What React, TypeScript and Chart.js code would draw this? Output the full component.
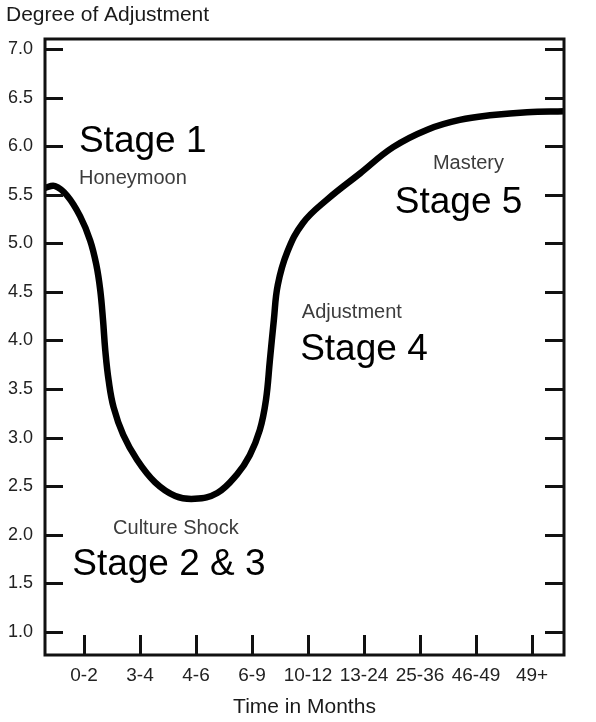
import { useEffect, useRef } from 'react';
import { Chart, registerables } from 'chart.js';

Chart.register(...registerables);

// Category labels along the time axis
const categories = ['0-2', '3-4', '4-6', '6-9', '10-12', '13-24', '25-36', '46-49', '49+'];
const xTickIndices = [0, 1, 2, 3, 4, 5, 6, 7, 8];
const yTickValues = [1.0, 1.5, 2.0, 2.5, 3.0, 3.5, 4.0, 4.5, 5.0, 5.5, 6.0, 6.5, 7.0];

// Adjustment curve (x in category index units)
const curveX = [-0.7, -0.52, -0.3, -0.07, 0.11, 0.22, 0.29, 0.34, 0.38, 0.44, 0.53, 0.7, 0.95, 1.27, 1.63, 1.98, 2.38, 2.73, 2.96, 3.14, 3.25, 3.32, 3.39, 3.46, 3.63, 3.91, 4.34, 4.93, 5.52, 6.13, 6.71, 7.3, 7.91, 8.57];
const curveY = [5.57, 5.59, 5.49, 5.28, 5.03, 4.78, 4.52, 4.21, 3.9, 3.59, 3.31, 3.03, 2.77, 2.54, 2.4, 2.37, 2.43, 2.62, 2.82, 3.08, 3.39, 3.8, 4.21, 4.57, 4.91, 5.21, 5.45, 5.72, 5.99, 6.17, 6.27, 6.32, 6.35, 6.36];

// Phase names and their anchor (data units)
const phaseLabels = ['Honeymoon', 'Culture Shock', 'Adjustment', 'Mastery'];
const phaseX = [-0.09, 0.52, 3.89, 6.23];
const phaseY = [5.67, 2.07, 4.29, 5.82];

// Handwritten stage notes and their anchor (data units, baseline)
const stageLabels = ['Stage 1', 'Stage 2 & 3', 'Stage 4', 'Stage 5'];
const stageX = [-0.09, -0.21, 3.86, 5.55];
const stageY = [5.94, 1.59, 3.8, 5.31];

const X_MIN = -0.696;
const X_MAX = 8.571;
const Y_MIN = 0.763;
const Y_MAX = 7.103;

const framePlugin = {
  id: 'frameAndNotes',
  afterDatasetsDraw(chart: any) {
    const { ctx, chartArea: a, scales } = chart;
    const x = scales.x;
    const y = scales.y;
    ctx.save();
    // frame
    ctx.strokeStyle = '#111';
    ctx.lineWidth = 3;
    ctx.strokeRect(a.left, a.top, a.right - a.left, a.bottom - a.top);
    // inner tick marks
    ctx.beginPath();
    for (const v of yTickValues) {
      const py = Math.round(y.getPixelForValue(v)) + 0.5;
      ctx.moveTo(a.left, py);
      ctx.lineTo(a.left + 18, py);
      ctx.moveTo(a.right - 19, py);
      ctx.lineTo(a.right, py);
    }
    for (const i of xTickIndices) {
      const px = Math.round(x.getPixelForValue(i)) + 0.5;
      ctx.moveTo(px, a.bottom);
      ctx.lineTo(px, a.bottom - 20);
    }
    ctx.stroke();

    // phase labels
    ctx.fillStyle = '#3c3c3c';
    ctx.font = '20px "Liberation Sans", Arial, sans-serif';
    ctx.textAlign = 'left';
    ctx.textBaseline = 'middle';
    phaseLabels.forEach((t, i) => {
      ctx.fillText(t, x.getPixelForValue(phaseX[i]), y.getPixelForValue(phaseY[i]));
    });

    // stage notes
    ctx.fillStyle = '#000';
    ctx.font = '37px "Liberation Sans", Arial, sans-serif';
    ctx.textBaseline = 'alphabetic';
    stageLabels.forEach((t, i) => {
      ctx.fillText(t, x.getPixelForValue(stageX[i]), y.getPixelForValue(stageY[i]));
    });
    ctx.restore();
  },
};

export default function App() {
  const ref = useRef<HTMLCanvasElement | null>(null);

  useEffect(() => {
    if (!ref.current) return;
    const data = curveX.map((xv, i) => ({ x: xv, y: curveY[i] }));
    const chart = new Chart(ref.current, {
      type: 'line',
      data: {
        datasets: [
          {
            data,
            borderColor: '#000',
            borderWidth: 6.5,
            pointRadius: 0,
            fill: false,
            tension: 0.4,
            borderCapStyle: 'round',
            borderJoinStyle: 'round',
          },
        ],
      },
      options: {
        responsive: false,
        animation: false,
        layout: { padding: { left: 6, right: 32, top: 0, bottom: 0 } },
        plugins: {
          legend: { display: false },
          tooltip: { enabled: false },
          title: {
            display: true,
            text: 'Degree of Adjustment',
            align: 'start',
            color: '#1a1a1a',
            font: { family: '"Liberation Sans", Arial, sans-serif', size: 21, weight: 'normal' },
            padding: { top: 3, bottom: 10.8 },
          },
        },
        scales: {
          x: {
            type: 'linear',
            min: X_MIN,
            max: X_MAX,
            grid: { display: false, drawTicks: false },
            border: { display: false },
            afterBuildTicks: (scale: any) => {
              scale.ticks = xTickIndices.map((v) => ({ value: v }));
            },
            afterFit: (scale: any) => {
              scale.height = 67;
            },
            ticks: {
              autoSkip: false,
              maxRotation: 0,
              padding: 9,
              color: '#222',
              font: { family: '"Liberation Sans", Arial, sans-serif', size: 19 },
              callback: (v: any) => categories[Math.round(Number(v))] ?? '',
            },
            title: {
              display: true,
              text: 'Time in Months',
              color: '#1a1a1a',
              font: { family: '"Liberation Sans", Arial, sans-serif', size: 21 },
              padding: { top: 0, bottom: 2 },
            },
          },
          y: {
            type: 'linear',
            min: Y_MIN,
            max: Y_MAX,
            grid: { display: false, drawTicks: false },
            border: { display: false },
            afterBuildTicks: (scale: any) => {
              scale.ticks = yTickValues.map((v) => ({ value: v }));
            },
            afterFit: (scale: any) => {
              scale.width = 39;
            },
            ticks: {
              padding: 12,
              color: '#222',
              font: { family: '"Liberation Sans", Arial, sans-serif', size: 18 },
              callback: (v: any) => Number(v).toFixed(1),
            },
          },
        },
      },
      plugins: [framePlugin],
    });
    return () => chart.destroy();
  }, []);

  return (
    <div style={{ position: 'fixed', left: 0, top: 0, width: 596, height: 722, background: '#fff' }}>
      <canvas ref={ref} width={596} height={722} style={{ display: 'block' }} />
    </div>
  );
}
